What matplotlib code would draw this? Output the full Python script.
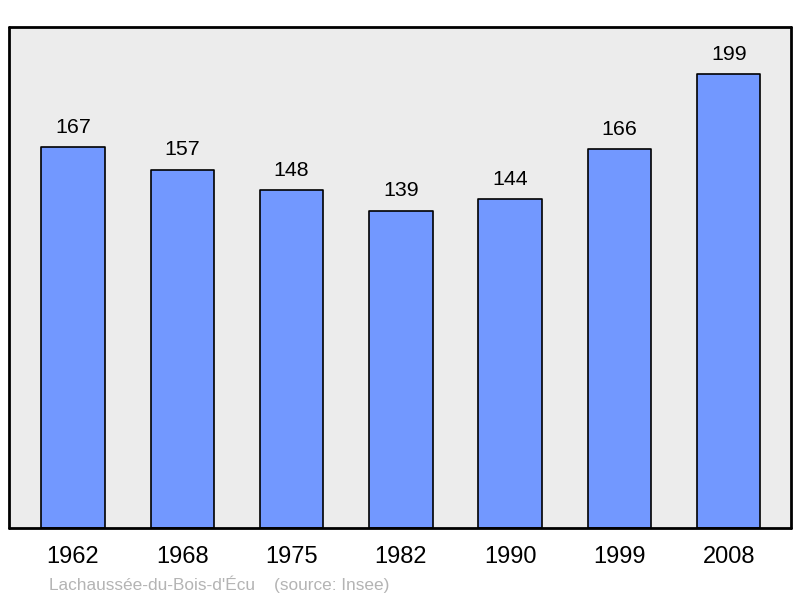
import matplotlib.pyplot as plt

plt.rcParams['font.family'] = ['Liberation Sans', 'DejaVu Sans']

years = ['1962', '1968', '1975', '1982', '1990', '1999', '2008']
population = [167, 157, 148, 139, 144, 166, 199]
caption = "Lachaussée-du-Bois-d'Écu    (source: Insee)"

fig = plt.figure(figsize=(8, 5.98), dpi=100)
ax = fig.add_axes([9 / 800, 70 / 598, 782 / 800, 501 / 598])
ax.set_facecolor('#ececec')

bars = ax.bar(range(len(years)), population, width=0.58, color='#7298ff',
              edgecolor='black', linewidth=1.2, zorder=2)
for b in bars:
    b.set_joinstyle('round')

for i, v in enumerate(population):
    ax.annotate(str(v), (i, v), xytext=(0, 7.5), textcoords='offset points',
                ha='center', va='bottom', fontsize=15.4)

ax.set_xlim(-0.585, len(years) - 1 + 0.57)
ax.set_ylim(0, 219.6)
ax.set_yticks([])
ax.set_xticks(range(len(years)))
ax.set_xticklabels(years, fontsize=17)
ax.tick_params(axis='x', length=0, pad=13)
for s in ax.spines.values():
    s.set_linewidth(2)
    s.set_capstyle('round')
    s.set_joinstyle('round')

fig.text(49 / 800, 1 - 584 / 598, caption, fontsize=12.4, color='#b4b4b4',
         ha='left', va='center')

fig.savefig('out.png', dpi=100)
